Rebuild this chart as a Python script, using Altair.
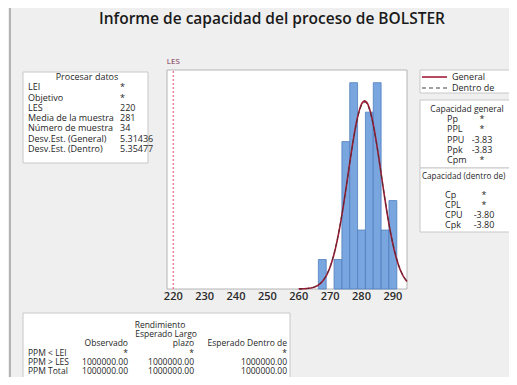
import altair as alt
import numpy as np
import pandas as pd

# ---------------- data ----------------
TITLE = ["Informe de capacidad del proceso de BOLSTER"]

bin_mid = [267.5, 270.0, 272.5, 275.0, 277.5, 280.0, 282.5, 285.0, 287.5, 290.0]
bin_count = [1, 0, 1, 5, 7, 2, 6, 7, 2, 3]
BIN_W = 2.5

tick_values = [220, 230, 240, 250, 260, 270, 280, 290]
USL = 220
USL_LABEL = ["LES"]

sample_mean = 281.0
sd_overall = 5.31436
sd_within = 5.35477
n_sample = 34

proc_title = ["Procesar datos"]
proc_labels = ["LEI", "Objetivo", "LES", "Media de la muestra", "Número de muestra",
               "Desv.Est. (General)", "Desv.Est. (Dentro)"]
proc_values = ["*", "*", "220", "281", "34", "5.31436", "5.35477"]

legend_labels = ["General", "Dentro de"]

capg_title = ["Capacidad general"]
capg_labels = ["Pp", "PPL", "PPU", "Ppk", "Cpm"]
capg_values = ["*", "*", "-3.83", "-3.83", "*"]

capw_title = ["Capacidad (dentro de)"]
capw_labels = ["Cp", "CPL", "CPU", "Cpk"]
capw_values = ["*", "*", "-3.80", "-3.80"]

perf_title = ["Rendimiento"]
perf_head2 = ["Esperado Largo"]
perf_heads = ["Observado", "plazo", "Esperado Dentro de"]
perf_rows = ["PPM < LEI", "PPM > LES", "PPM Total"]
perf_observed = ["*", "1000000.00", "1000000.00"]
perf_exp_overall = ["*", "1000000.00", "1000000.00"]
perf_exp_within = ["*", "1000000.00", "1000000.00"]

# ---------------- styling ----------------
FONT = "Open Sans"
TXT = "#262626"
W, H = 501, 369
X_DOM = [218, 294.5]
Y_DOM = [0, 7.43]
FS = 9


def XS():
    return alt.Scale(domain=X_DOM, range=[159, 399], nice=False, zero=False)


def YS():
    return alt.Scale(domain=Y_DOM, range=[281, 62], nice=False, zero=False)


def one():
    return alt.Data(values=[{"k": 0}])


def box(x, x2, y, y2, fill="white", stroke="#c8c8c8"):
    return alt.Chart(one()).mark_rect(fill=fill, stroke=stroke, strokeWidth=1).encode(
        x=alt.value(x), x2=alt.value(x2), y=alt.value(y), y2=alt.value(y2))


def rows_text(labels, x, align, y0, y1, n, start=0, size=FS, weight="normal", color=TXT):
    df = pd.DataFrame({"row": list(range(start, start + len(labels))), "label": labels})
    return alt.Chart(df).mark_text(
        align=align, baseline="middle", font=FONT, fontSize=size, fontWeight=weight, color=color
    ).encode(
        x=alt.value(x),
        y=alt.Y("row:Q", scale=alt.Scale(domain=[0, max(n, 1)], range=[y0, y1], nice=False, zero=False), axis=None),
        text="label:N",
    )


layers = []

# left border line
layers.append(alt.Chart(one()).mark_rule(color="#a0a0a0", strokeWidth=1.5).encode(
    x=alt.value(2), y=alt.value(0), y2=alt.value(H)))

# title
layers.append(rows_text(TITLE, 264, "center", 11, 11, 1, size=15.5, weight=600, color="#1a1a1a"))

# ---------------- histogram ----------------
layers.append(alt.Chart(one()).mark_rect(fill="white", stroke="#b4b4b4", strokeWidth=1).encode(
    x=alt.X(datum=X_DOM[0], type="quantitative", scale=XS(), axis=None),
    x2=alt.X2(datum=X_DOM[1]),
    y=alt.Y(datum=Y_DOM[0], type="quantitative", scale=YS(), axis=None),
    y2=alt.Y2(datum=Y_DOM[1]),
))

bins = pd.DataFrame({
    "x0": [m - BIN_W / 2 for m in bin_mid],
    "x1": [m + BIN_W / 2 for m in bin_mid],
    "count": bin_count,
})
bins = bins[bins["count"] > 0]
layers.append(alt.Chart(bins).mark_rect(fill="#79a6df", stroke="#4f7fbf", strokeWidth=0.8).encode(
    x=alt.X("x0:Q", scale=XS(), axis=None),
    x2="x1:Q",
    y=alt.Y("count:Q", scale=YS(), axis=None),
    y2=alt.Y2(datum=0),
))

xs = np.arange(260.0, 294.51, 0.25)


def normal_curve(sd):
    return n_sample * BIN_W * np.exp(-0.5 * ((xs - sample_mean) / sd) ** 2) / (sd * np.sqrt(2 * np.pi))


curve_w = pd.DataFrame({"x": xs, "y": normal_curve(sd_within)})
curve_o = pd.DataFrame({"x": xs, "y": normal_curve(sd_overall)})

layers.append(alt.Chart(curve_o).mark_line(color="#9b1c33", strokeWidth=1.6).encode(
    x=alt.X("x:Q", scale=XS(), axis=None), y=alt.Y("y:Q", scale=YS(), axis=None)))
layers.append(alt.Chart(curve_w).mark_line(color="#5a2a33", strokeWidth=1, strokeDash=[4, 3]).encode(
    x=alt.X("x:Q", scale=XS(), axis=None), y=alt.Y("y:Q", scale=YS(), axis=None)))

# USL line + label
layers.append(alt.Chart(one()).mark_rule(color="#e8688a", strokeWidth=1.2, strokeDash=[2, 2]).encode(
    x=alt.X(datum=USL, type="quantitative", scale=XS(), axis=None),
    y=alt.Y(datum=Y_DOM[0], type="quantitative", scale=YS(), axis=None),
    y2=alt.Y2(datum=Y_DOM[1]),
))
layers.append(alt.Chart(pd.DataFrame({"x": [USL], "t": USL_LABEL})).mark_text(
    font=FONT, fontSize=8, color="#7a3050", baseline="middle", align="center", dy=-8
).encode(
    x=alt.X("x:Q", scale=XS(), axis=None),
    y=alt.Y(datum=Y_DOM[1], type="quantitative", scale=YS(), axis=None),
    text="t:N",
))

# tick labels
layers.append(alt.Chart(pd.DataFrame({"t": tick_values})).mark_text(
    font=FONT, fontSize=11, fontWeight=600, color="#2a2a2a", baseline="middle", align="center", dy=8
).encode(
    x=alt.X("t:Q", scale=XS(), axis=None),
    y=alt.Y(datum=0, type="quantitative", scale=YS(), axis=None),
    text="t:Q",
))

# ---------------- Procesar datos ----------------
layers.append(box(15, 140, 64, 155))
layers.append(rows_text(proc_title, 79, "center", 69, 141, 7, start=0))
layers.append(rows_text(proc_labels, 20, "left", 69, 141, 7, start=1))
layers.append(rows_text(proc_values, 112, "left", 69, 141, 7, start=1))

# ---------------- legend ----------------
layers.append(box(412, 506, 62, 85))
layers.append(alt.Chart(one()).mark_rule(color="#a3203a", strokeWidth=1.6).encode(
    x=alt.value(414), x2=alt.value(439), y=alt.value(69)))
layers.append(alt.Chart(one()).mark_rule(color="#444444", strokeWidth=1.2, strokeDash=[4, 3]).encode(
    x=alt.value(414), x2=alt.value(439), y=alt.value(80)))
layers.append(rows_text(legend_labels, 444, "left", 69, 80, 1, start=0))

# ---------------- capability ----------------
layers.append(box(412, 506, 92, 160))
layers.append(box(412, 506, 160, 224))
layers.append(rows_text(capg_title, 459, "center", 101, 152, 5, start=0, size=8.5))
layers.append(rows_text(capg_labels, 439, "left", 101, 152, 5, start=1))
layers.append(rows_text(capg_values, 474, "center", 101, 152, 5, start=1))
layers.append(rows_text(capw_title, 414, "left", 169, 169, 1, start=0, size=8.1))
layers.append(rows_text(capw_labels, 437, "left", 187, 217, 3, start=0))
layers.append(rows_text(capw_values, 476, "center", 187, 217, 3, start=0))

# ---------------- performance ----------------
PFS = 8.5
layers.append(box(15, 282, 305, 374))
layers.append(rows_text(perf_title, 152, "center", 317, 363, 5, start=0, size=PFS))
layers.append(rows_text(perf_head2, 189, "right", 317, 363, 5, start=1, size=PFS))
for x, lab in zip([120, 186, 279], perf_heads):
    layers.append(rows_text([lab], x, "right", 317, 363, 5, start=2, size=PFS))
layers.append(rows_text(perf_rows, 20, "left", 317, 363, 5, start=3, size=PFS))
for x, col in zip([120, 186, 279], [perf_observed, perf_exp_overall, perf_exp_within]):
    layers.append(rows_text(col, x, "right", 317, 363, 5, start=3, size=PFS))

chart = alt.layer(*layers).resolve_scale(x="independent", y="independent").properties(
    width=W, height=H, autosize=alt.AutoSizeParams(type="none"), padding=0,
    background="#efefef",
).configure_view(strokeWidth=0)

chart.save("out.html", embed_options={"renderer": "svg", "actions": False})
